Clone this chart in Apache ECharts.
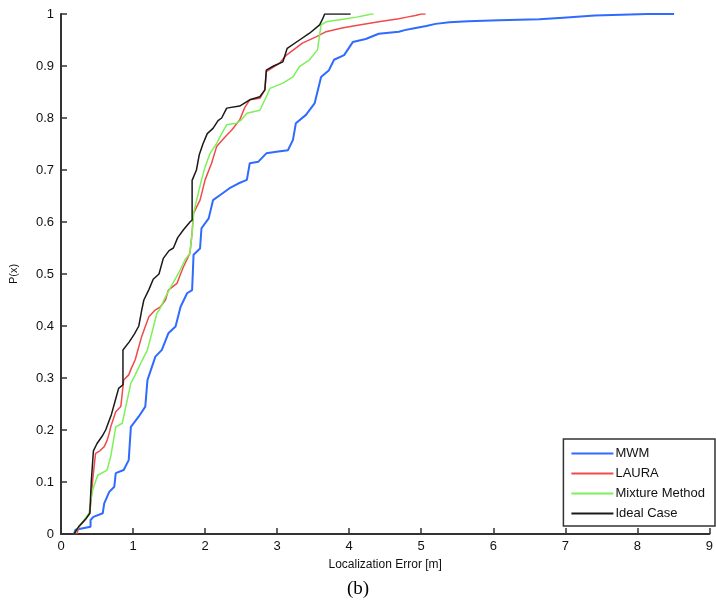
<!DOCTYPE html>
<html>
<head>
<meta charset="utf-8">
<script src="https://cdn.jsdelivr.net/npm/echarts@6/dist/echarts.min.js"></script>
<style>html,body{margin:0;padding:0;background:#fff}#c{width:716px;height:612px}</style>
</head>
<body>
<div id="c"></div>
<script>
const seriesNames = ['MWM', 'LAURA', 'Mixture Method', 'Ideal Case'];
const xTicks = [0,1,2,3,4,5,6,7,8,9];
const yTicks = [0,0.1,0.2,0.3,0.4,0.5,0.6,0.7,0.8,0.9,1];

const mwm = [[0.18,0],[0.20,0.008],[0.41,0.014],[0.41,0.027],[0.45,0.033],[0.58,0.04],[0.60,0.059],[0.67,0.081],[0.74,0.091],[0.76,0.117],[0.87,0.123],[0.94,0.142],[0.97,0.206],[1.08,0.226],[1.17,0.245],[1.20,0.296],[1.31,0.341],[1.40,0.354],[1.49,0.386],[1.59,0.399],[1.66,0.437],[1.75,0.463],[1.82,0.469],[1.84,0.537],[1.93,0.549],[1.95,0.588],[2.05,0.607],[2.11,0.642],[2.21,0.652],[2.34,0.665],[2.46,0.674],[2.58,0.681],[2.62,0.713],[2.74,0.716],[2.85,0.732],[2.99,0.735],[3.15,0.738],[3.22,0.758],[3.26,0.79],[3.40,0.806],[3.52,0.828],[3.61,0.879],[3.72,0.892],[3.79,0.912],[3.93,0.921],[4.05,0.946],[4.23,0.952],[4.41,0.962],[4.69,0.966],[4.77,0.969],[4.85,0.971],[4.96,0.974],[5.07,0.977],[5.20,0.981],[5.39,0.984],[5.65,0.986],[6.08,0.988],[6.64,0.99],[6.97,0.993],[7.41,0.997],[8.14,1.0],[8.51,1.0]];

const laura = [[0.22,0],[0.25,0.014],[0.32,0.025],[0.40,0.04],[0.42,0.07],[0.44,0.104],[0.46,0.13],[0.48,0.155],[0.54,0.16],[0.60,0.168],[0.64,0.18],[0.67,0.194],[0.69,0.206],[0.76,0.235],[0.83,0.245],[0.85,0.27],[0.87,0.296],[0.94,0.306],[0.98,0.32],[1.03,0.335],[1.08,0.36],[1.12,0.38],[1.17,0.399],[1.22,0.418],[1.30,0.43],[1.38,0.437],[1.45,0.45],[1.49,0.469],[1.61,0.482],[1.66,0.50],[1.70,0.514],[1.79,0.54],[1.82,0.58],[1.84,0.617],[1.93,0.642],[2.0,0.681],[2.09,0.713],[2.16,0.745],[2.28,0.764],[2.37,0.777],[2.48,0.796],[2.55,0.82],[2.62,0.835],[2.76,0.838],[2.83,0.854],[2.85,0.889],[3.03,0.905],[3.13,0.921],[3.35,0.944],[3.54,0.956],[3.68,0.966],[3.90,0.973],[4.14,0.979],[4.41,0.985],[4.69,0.991],[4.80,0.994],[4.92,0.997],[5.0,1.0],[5.06,1.0]];

const mixture = [[0.18,0],[0.28,0.02],[0.39,0.04],[0.42,0.07],[0.44,0.085],[0.51,0.113],[0.64,0.123],[0.69,0.149],[0.76,0.206],[0.85,0.213],[0.92,0.258],[0.97,0.29],[1.03,0.306],[1.13,0.335],[1.20,0.354],[1.26,0.386],[1.33,0.424],[1.38,0.435],[1.45,0.456],[1.54,0.479],[1.63,0.501],[1.72,0.527],[1.79,0.54],[1.82,0.578],[1.84,0.617],[1.91,0.658],[1.95,0.681],[2.0,0.706],[2.07,0.732],[2.16,0.751],[2.23,0.77],[2.30,0.787],[2.44,0.79],[2.50,0.796],[2.58,0.809],[2.76,0.815],[2.85,0.841],[2.90,0.857],[3.08,0.867],[3.22,0.879],[3.31,0.899],[3.45,0.912],[3.56,0.931],[3.61,0.979],[3.68,0.985],[3.96,0.991],[4.1,0.994],[4.25,0.998],[4.30,1.0],[4.34,1.0]];

const ideal = [[0.18,0],[0.25,0.015],[0.35,0.03],[0.40,0.04],[0.42,0.10],[0.45,0.16],[0.50,0.174],[0.58,0.19],[0.62,0.20],[0.70,0.23],[0.76,0.26],[0.80,0.28],[0.86,0.287],[0.86,0.354],[0.95,0.37],[1.02,0.385],[1.08,0.40],[1.12,0.43],[1.15,0.45],[1.22,0.47],[1.28,0.49],[1.36,0.50],[1.42,0.53],[1.50,0.545],[1.56,0.55],[1.62,0.57],[1.70,0.585],[1.79,0.60],[1.82,0.604],[1.82,0.68],[1.88,0.70],[1.92,0.73],[1.97,0.75],[2.03,0.77],[2.11,0.78],[2.18,0.795],[2.23,0.80],[2.30,0.819],[2.48,0.823],[2.62,0.835],[2.76,0.841],[2.83,0.854],[2.85,0.892],[2.95,0.90],[3.08,0.908],[3.14,0.934],[3.31,0.95],[3.45,0.963],[3.59,0.979],[3.63,0.99],[3.66,1.0],[4.02,1.0]];

const seriesData = [mwm, laura, mixture, ideal];
const colors = ['#2f6bff', '#f04a4a', '#7ef05a', '#1a1a1a'];
const widths = [2, 1.5, 1.5, 1.5];

const chart = echarts.init(document.getElementById('c'), null, {renderer: 'canvas'});
const font = '"Liberation Sans", Arial, sans-serif';
chart.setOption({
  animation: false,
  backgroundColor: '#fff',
  color: colors,
  grid: {left: 60, right: 4, top: 14, bottom: 78, containLabel: false},
  xAxis: {
    type: 'value', min: xTicks[0], max: xTicks[xTicks.length-1], interval: 1,
    name: 'Localization Error [m]', nameLocation: 'middle', nameGap: 25,
    nameTextStyle: {fontFamily: font, fontSize: 12, color: '#111'},
    axisLine: {show: true, onZero: false, lineStyle: {color: '#333', width: 2}},
    axisTick: {show: true, inside: true, length: 6, lineStyle: {color: '#333', width: 1.5}},
    axisLabel: {fontFamily: font, fontSize: 13, color: '#111', margin: 6, showMaxLabel: true},
    splitLine: {show: false}
  },
  yAxis: {
    type: 'value', min: yTicks[0], max: yTicks[yTicks.length-1], interval: 0.1,
    name: 'P(x)', nameLocation: 'middle', nameGap: 42, nameRotate: 90,
    nameTextStyle: {fontFamily: font, fontSize: 11, color: '#111'},
    axisLine: {show: true, onZero: false, lineStyle: {color: '#333', width: 2}},
    axisTick: {show: true, inside: true, length: 6, lineStyle: {color: '#333', width: 1.5}},
    axisLabel: {fontFamily: font, fontSize: 13, color: '#111', margin: 7,
      formatter: v => String(Math.round(v*10)/10)},
    splitLine: {show: false}
  },
  legend: {
    orient: 'vertical', right: 1, bottom: 86,
    data: seriesNames,
    icon: 'rect', itemWidth: 42, itemHeight: 2, itemGap: 7,
    padding: [8, 10, 6, 8],
    borderColor: '#333', borderWidth: 1.5, backgroundColor: '#fff',
    textStyle: {fontFamily: font, fontSize: 13, color: '#111', padding: [0,0,0,-3]}
  },
  graphic: [{
    type: 'text', left: 'center', top: 580,
    style: {text: '(b)', font: '19px "Liberation Serif", "Times New Roman", serif', fill: '#000'}
  }],
  series: seriesData.map((d, i) => ({
    name: seriesNames[i], type: 'line', data: d,
    showSymbol: false, symbol: 'none',
    lineStyle: {color: colors[i], width: widths[i]},
    z: i + 2
  }))
});
</script>
</body>
</html>
